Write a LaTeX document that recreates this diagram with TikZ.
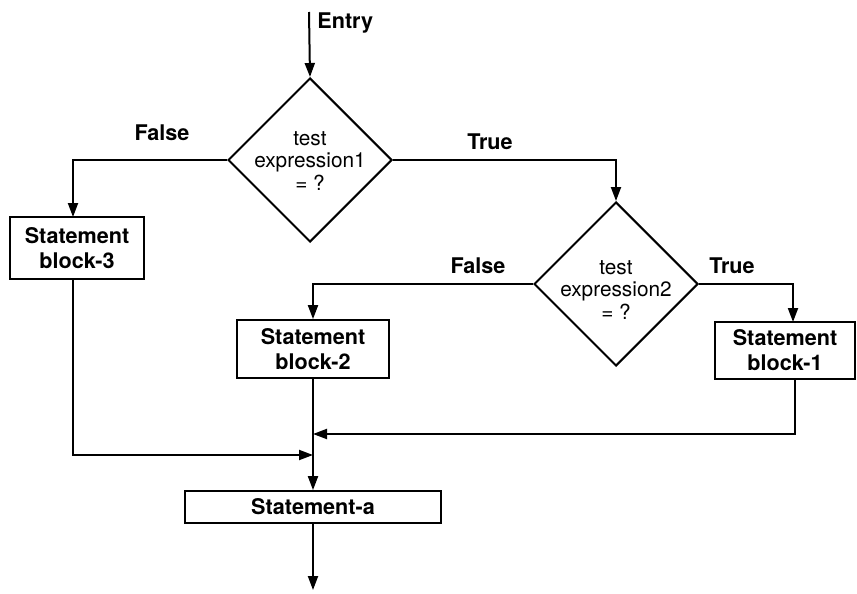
\documentclass[tikz,border=0pt]{standalone}
\usepackage{fontspec}
\setmainfont{TeX Gyre Heros}
\usetikzlibrary{shapes.geometric,arrows.meta,calc}
\tikzset{
  line/.style={line width=1pt},
  arr/.style={line, -{Triangle[length=7pt,width=5pt]}},
  dec/.style={diamond, draw, line width=1pt, inner sep=0pt, minimum width=82pt, minimum height=82pt},
  blk/.style={rectangle, draw, line width=0.9pt, inner sep=0pt, align=center, font=\bfseries\fontsize{10.8}{12.5}\selectfont},
  lbl/.style={font=\bfseries\fontsize{10.8}{12.5}\selectfont, inner sep=0pt},
  dtxt/.style={align=center, font=\fontsize{10.4}{11.3}\selectfont, inner sep=0pt}
}
\begin{document}
\begin{tikzpicture}[x=0.5pt,y=-0.5pt]
\useasboundingbox (0,0) rectangle (857,594);
% nodes
\coordinate (entry) at (309,12);
\node[dec] (d1) at (310,160) {};
\node[dtxt] (t1) at (310,161) {test\\expression1\\= ?};
\node[dec] (d2) at (616,284) {};
\node[dtxt] (t2) at (616,290) {test\\expression2\\= ?};
\node[blk, minimum width=67pt, minimum height=31pt] (b3) at (77,248) {Statement\\block-3};
\node[blk, minimum width=76pt, minimum height=29pt] (b2) at (313,349) {Statement\\block-2};
\node[blk, minimum width=70pt, minimum height=28.5pt] (b1) at (785,350.5) {Statement\\block-1};
\node[blk, minimum width=128pt, minimum height=16pt] (sa) at (313,507) {Statement-a};
\coordinate (exit) at (313,590);
\coordinate (j1) at (313,434);
\coordinate (j2) at (313,455);
\coordinate (b3top) at (73,217);
\coordinate (b1top) at (793,322);
\coordinate (b1bot) at (795,379);
\coordinate (b3bot) at (73,279);
% labels
\node[lbl, anchor=west] (lentry) at (317,23) {Entry};
\node[lbl] (lf1) at (162,133) {False};
\node[lbl] (lt1) at (490,142) {True};
\node[lbl] (lf2) at (478,266) {False};
\node[lbl] (lt2) at (732,266) {True};
% connectors
\draw[arr] (entry) -- (d1.north);
\draw[arr] (d1.west) -| (b3top);
\draw[arr] (d1.east) -| (d2.north);
\draw[arr] (d2.west) -| (b2.north);
\draw[arr] (d2.east) -| (b1top);
\draw[line] (b2.south) -- (j1);
\draw[line] (j1) -- (j2);
\draw[arr] (j2) -- (sa.north);
\draw[arr] (b1bot) |- (j1);
\draw[arr] (b3bot) |- (j2);
\draw[arr] (sa.south) -- (exit);
\end{tikzpicture}
\end{document}
